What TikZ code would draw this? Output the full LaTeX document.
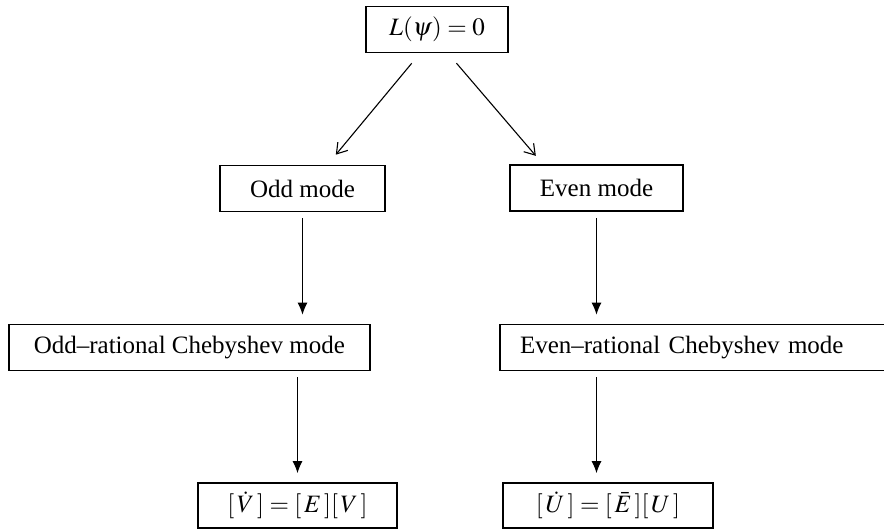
\documentclass[tikz,border=0pt]{standalone}
\usepackage{mathptmx}
\usepackage{fontspec}
\setmainfont{Liberation Serif}
\usetikzlibrary{arrows.meta}

\begin{document}
\begin{tikzpicture}[x=1pt,y=-1pt,line width=1.1pt,
  font=\fontsize{25}{30}\selectfont,
  box/.style={draw,line width=1.6pt,inner sep=0pt,minimum height=46pt},
  barb/.style={-{Straight Barb[length=10pt,width=13pt,line width=1.1pt]}},
  down/.style={-{Latex[length=12pt,width=10pt]},shorten <=6pt,shorten >=9pt}]
\useasboundingbox (0,0) rectangle (884,531);
% governing equation on top
\node[box,minimum width=142pt] (eq) at (437,29.5) {$L(\psi)=0$};
% the two symmetries
\node[box,minimum width=165pt] (odd) at (302.5,188.5) {Odd mode};
\node[box,minimum width=173pt] (even) at (596.5,188) {Even mode};
% rational Chebyshev expansions (right one runs off the page)
\node[box,anchor=west,inner xsep=25pt] (oddrat) at (8,347.5)
  {Odd--rational Chebyshev mode};
\node[box,text width=360pt,align=left,inner xsep=20pt] (evenrat) at (700,347.5)
  {Even--rational Chebyshev mode};
% resulting matrix problems
\node[box,minimum width=199pt,minimum height=45pt] (vodd) at (297.5,505.5)
  {$[\,\dot{V}\,]=[\,E\,][\,V\,]$};
\node[box,minimum width=210pt,minimum height=45pt] (ueven) at (608,505.5)
  {$[\,\dot{U}\,]=[\,\bar{E}\,][\,U\,]$};
% connectors
\draw[barb,shorten <=13pt,shorten >=13pt]
  ([xshift=-17pt]eq.south) -- ([xshift=25pt]odd.north);
\draw[barb,shorten <=13pt,shorten >=11pt]
  ([xshift=11pt]eq.south) -- ([xshift=-53.5pt]even.north);
\draw[down] (odd.south) -- (odd.south |- oddrat.north);
\draw[down] (even.south) -- (even.south |- evenrat.north);
\draw[down] (vodd.north |- oddrat.south) -- (vodd.north);
\draw[down] (even.south |- evenrat.south) -- (even.south |- ueven.north);
\end{tikzpicture}
\end{document}
